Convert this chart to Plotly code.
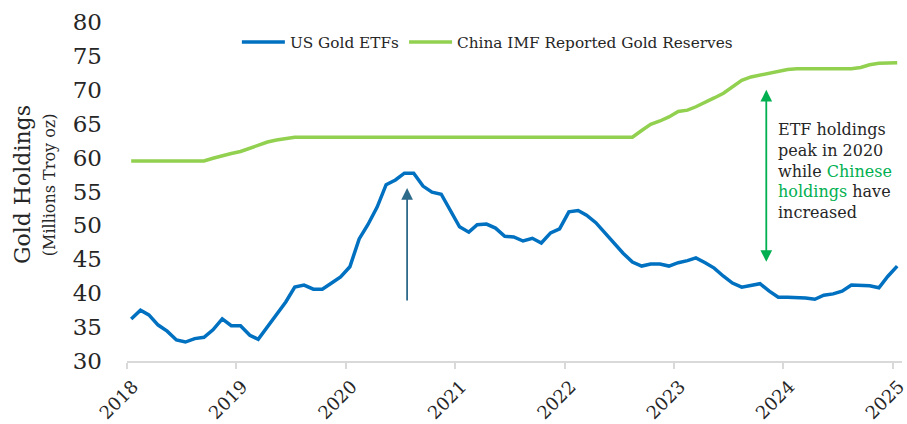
import pandas as pd
import plotly.graph_objects as go

# Monthly observations, Jan 2018 - Jan 2025 (plotted mid-month)
months = pd.date_range("2018-01-01", periods=85, freq="MS") + pd.Timedelta(days=14)

# US gold ETF holdings (million troy oz)
us_gold_etfs = [
    36.2, 37.5, 36.8, 35.3, 34.4, 33.1, 32.8, 33.3, 33.5, 34.6, 36.2, 35.2,
    35.2, 33.8, 33.2, 35.0, 36.8, 38.7, 40.9, 41.2, 40.6, 40.6, 41.5, 42.4,
    43.9, 48.0, 50.1, 52.7, 56.0, 56.7, 57.7, 57.7, 55.8, 54.9, 54.6, 52.3,
    49.8, 49.0, 50.1, 50.2, 49.6, 48.4, 48.3, 47.7, 48.1, 47.4, 48.9, 49.5,
    52.0, 52.2, 51.5, 50.4, 48.9, 47.4, 45.9, 44.6, 44.0, 44.3, 44.3, 44.0,
    44.5, 44.8, 45.2, 44.5, 43.7, 42.5, 41.5, 40.9, 41.2, 41.4, 40.3, 39.4,
    39.4, 39.4, 39.3, 39.1, 39.7, 39.9, 40.3, 41.2, 41.2, 41.1, 40.8, 42.5,
    44.0,
]

# China gold reserves reported to the IMF (million troy oz)
china_reserves = [
    59.5, 59.5, 59.5, 59.5, 59.5, 59.5, 59.5, 59.5, 59.5, 59.9, 60.3, 60.6,
    60.9, 61.4, 61.9, 62.3, 62.6, 62.8, 63.0, 63.0, 63.0, 63.0, 63.0, 63.0,
    63.0, 63.0, 63.0, 63.0, 63.0, 63.0, 63.0, 63.0, 63.0, 63.0, 63.0, 63.0,
    63.0, 63.0, 63.0, 63.0, 63.0, 63.0, 63.0, 63.0, 63.0, 63.0, 63.0, 63.0,
    63.0, 63.0, 63.0, 63.0, 63.0, 63.0, 63.0, 63.0, 64.0, 64.9, 65.4, 66.0,
    66.8, 67.0, 67.5, 68.1, 68.8, 69.5, 70.5, 71.4, 71.9, 72.2, 72.5, 72.8,
    73.0, 73.1, 73.1, 73.1, 73.1, 73.1, 73.1, 73.1, 73.3, 73.7, 73.9, 74.0,
    74.0,
]

FONT = "DejaVu Serif"
TEXT = "#262626"

fig = go.Figure()

fig.add_trace(go.Scatter(x=months, y=us_gold_etfs, mode="lines", name="US Gold ETFs",
                         line=dict(color="#0070c0", width=3.5)))
fig.add_trace(go.Scatter(x=months, y=china_reserves, mode="lines",
                         name="China IMF Reported Gold Reserves",
                         line=dict(color="#92d050", width=3.5)))

# ETF peak arrow
fig.add_annotation(x="2020-07-24", y=55.5, ax="2020-07-24", ay=38.7,
                   xref="x", yref="y", axref="x", ayref="y",
                   text="", showarrow=True, arrowhead=2, arrowsize=1.3,
                   arrowwidth=1.8, arrowcolor="#2e6a8a")

# China vs ETF gap arrow (double headed)
fig.add_annotation(x="2023-11-05", y=70.0, ax="2023-11-05", ay=44.4,
                   xref="x", yref="y", axref="x", ayref="y",
                   text="", showarrow=True, arrowhead=2, startarrowhead=2,
                   arrowside="end+start", arrowsize=1.3, startarrowsize=1.3,
                   arrowwidth=1.8, arrowcolor="#00b050")

fig.add_annotation(x="2023-12-07", y=58.0, xref="x", yref="y",
                   xanchor="left", yanchor="middle", align="left", showarrow=False,
                   text=("ETF holdings<br>peak in 2020<br>while "
                         "<span style='color:#00b050'>Chinese</span><br>"
                         "<span style='color:#00b050'>holdings</span> have<br>increased"),
                   font=dict(family=FONT, size=16, color=TEXT))

# y-axis titles
fig.add_annotation(x=-0.135, y=0.52, xref="paper", yref="paper", textangle=-90,
                   xanchor="center", yanchor="middle", showarrow=False,
                   text="Gold Holdings",
                   font=dict(family=FONT, size=22, color=TEXT))
fig.add_annotation(x=-0.1, y=0.52, xref="paper", yref="paper", textangle=-90,
                   xanchor="center", yanchor="middle", showarrow=False,
                   text="(Millions Troy oz)",
                   font=dict(family=FONT, size=16, color=TEXT))

fig.update_layout(
    width=907, height=424,
    margin=dict(l=127, r=5, t=22, b=63),
    plot_bgcolor="white", paper_bgcolor="white",
    font=dict(family=FONT, color=TEXT),
    legend=dict(orientation="h", x=0.465, xanchor="center", y=0.941, yanchor="middle",
                itemwidth=43,
                font=dict(family=FONT, size=15.3, color=TEXT), bgcolor="rgba(0,0,0,0)"),
    xaxis=dict(range=["2018-01-01", "2025-01-31"], dtick="M12", tickformat="%Y",
               tick0="2018-01-01", tickangle=-45, showgrid=False, zeroline=False,
               showline=True, linecolor="#d9d9d9", linewidth=2, automargin=False,
               ticks="outside", ticklen=6, tickwidth=2, tickcolor="#d9d9d9",
               ticklabelshift=6, ticklabeloverflow="allow",
               tickfont=dict(family=FONT, size=18, color=TEXT)),
    yaxis=dict(range=[30, 80], dtick=5, showgrid=False, zeroline=False,
               showline=False, ticks="", ticklabelstandoff=24, automargin=False,
               tickfont=dict(family=FONT, size=23, color=TEXT)),
)

# the page keeps the default 8px body margin otherwise
fig.write_html("out.html", config={"displayModeBar": False},
               post_script="document.body.style.margin = '0';")
